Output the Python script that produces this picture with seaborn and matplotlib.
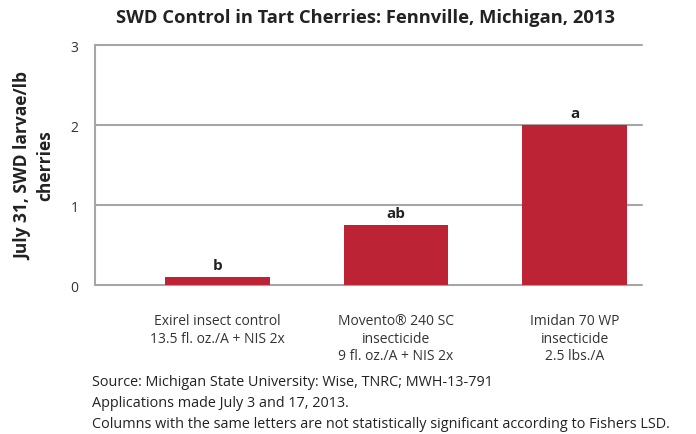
import matplotlib
matplotlib.use("Agg")
import matplotlib.pyplot as plt
import seaborn as sns
import pandas as pd

categories = ["Exirel insect control\n13.5 fl. oz./A + NIS 2x",
              "Movento® 240 SC\ninsecticide\n9 fl. oz./A + NIS 2x",
              "Imidan 70 WP\ninsecticide\n2.5 lbs./A"]
values = [0.1, 0.75, 2.0]
letters = ["b", "ab", "a"]
yticks = [0, 1, 2, 3]
ylabel_lines = ["July 31, SWD larvae/lb", "cherries"]
notes = ["Source: Michigan State University: Wise, TNRC; MWH-13-791",
         "Applications made July 3 and 17, 2013.",
         "Columns with the same letters are not statistically significant according to Fishers LSD."]

sns.set_theme(style="white")
plt.rcParams['font.family'] = ['Open Sans', 'DejaVu Sans']

df = pd.DataFrame({"cat": categories, "val": values})

fig = plt.figure(figsize=(6.96, 4.35), dpi=100)
ax = fig.add_axes([95/696, 1-286/435, (642-95)/696, 240/435])

sns.barplot(data=df, x="cat", y="val", color="#BC2335", saturation=1,
            width=0.583, ax=ax, zorder=3, linewidth=0)

ax.set_xlim(-0.686, 2.378)
ax.set_ylim(0, 3)
ax.set_yticks(yticks)
ax.set_yticklabels([str(t) for t in yticks], fontsize=10, color="#333333")
for t in yticks:
    ax.axhline(t, color="#a6a6a6", lw=1.5, zorder=1, clip_on=False)
for s in ["top", "right", "bottom"]:
    ax.spines[s].set_visible(False)
ax.spines["left"].set_color("#a6a6a6")
ax.spines["left"].set_linewidth(1.5)
ax.tick_params(axis="both", length=0)
ax.tick_params(axis="y", pad=12)
ax.tick_params(axis="x", pad=20)
ax.set_xticks(range(len(categories)))
ax.set_xticklabels(categories, fontsize=10, color="#333333", va="top",
                   linespacing=1.25)
ax.set_xlabel("")
ax.set_ylabel("")

for k, line in enumerate(ylabel_lines):
    fig.text((23 + k*22)/696, 1-166/435, line, rotation=90,
             ha="center", va="center", fontsize=12.5,
             fontweight="bold", color="#222222")

for i, (v, l) in enumerate(zip(values, letters)):
    ax.text(i, v + 0.06, l, ha="center", va="bottom", fontsize=11,
            fontweight="bold", color="#222222")

fig.text(366/696, 1-18/435, "SWD Control in Tart Cherries: Fennville, Michigan, 2013",
         ha="center", va="center", fontsize=13.2, fontweight="bold", color="#222222")

for j, n in enumerate(notes):
    fig.text(92/696, 1-(383 + j*21)/435, n, ha="left", va="center",
             fontsize=10.4, color="#222222")

fig.savefig("out.png", dpi=100)
